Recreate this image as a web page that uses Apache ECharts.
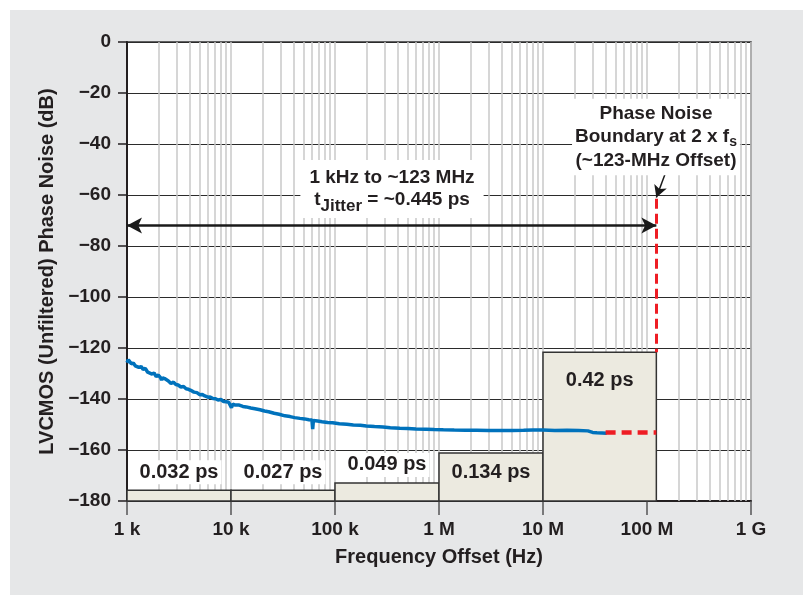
<!DOCTYPE html>
<html>
<head>
<meta charset="utf-8">
<script src="https://cdn.jsdelivr.net/npm/echarts@6/dist/echarts.min.js"></script>
<style>
  html, body { margin: 0; padding: 0; background: #fff; }
  #panel { position: absolute; left: 10px; top: 10px; width: 793px; height: 585px; background: #e6e7e8; }
  #chart { position: absolute; left: 0; top: 0; width: 809px; height: 608px; }
</style>
</head>
<body>
<div id="panel"></div>
<div id="chart"></div>
<script>
// measured phase noise (Hz, dB)
const freqs = [
  1000, 1030, 1060, 1100, 1150, 1200, 1250, 1300, 1370, 1430,
  1500, 1580, 1650, 1740, 1820, 1910, 2000, 2100, 2150, 2200,
  2300, 2400, 2500, 2650, 2800, 2950, 3100, 3300, 3500, 3700,
  3900, 4100, 4400, 4700, 5000, 5300, 5600, 6000, 6300, 6700,
  7100, 7500, 8000, 8500, 9000, 9500, 9800, 10100, 10400, 11000,
  12000, 13000, 14000, 15500, 17000, 19000, 21000, 23000, 26000, 29000,
  33000, 37000, 41000, 46000, 51000, 56000, 60000, 61000, 62000, 68000,
  75000, 85000, 95000, 110000, 130000, 150000, 175000, 200000, 240000, 290000,
  340000, 420000, 500000, 600000, 750000, 900000, 1.1e6, 1.4e6, 1.8e6, 2.3e6,
  3e6, 3.8e6, 5e6, 6.5e6, 8e6, 1e7, 1.3e7, 1.7e7, 2.2e7, 2.7e7,
  3e7, 3.3e7, 3.7e7, 4.1e7
];
const noiseDb = [
  -125.8, -124.6, -124.9, -126.2, -125.9, -127.0, -126.4, -127.6, -127.3, -128.4,
  -128.0, -129.5, -129.1, -130.2, -129.8, -131.2, -130.6, -131.6, -132.6, -131.7,
  -132.0, -132.7, -132.9, -133.9, -133.4, -134.3, -134.5, -135.3, -135.1, -136.0,
  -136.2, -136.6, -137.3, -137.5, -138.3, -138.2, -138.8, -139.3, -139.2, -139.8,
  -139.9, -140.4, -140.2, -141.0, -141.1, -141.3, -141.9, -143.4, -142.0, -142.4,
  -142.4, -142.9, -143.1, -143.5, -143.8, -144.2, -144.7, -145.0, -145.6, -146.0,
  -146.6, -146.9, -147.3, -147.6, -147.8, -148.1, -148.2, -151.8, -148.4, -148.6,
  -148.9, -149.2, -149.3, -149.7, -149.9, -150.2, -150.3, -150.6, -150.8, -151.0,
  -151.3, -151.5, -151.6, -151.8, -151.9, -152.0, -152.1, -152.2, -152.3, -152.3,
  -152.4, -152.4, -152.4, -152.3, -152.2, -152.2, -152.4, -152.3, -152.4, -152.5,
  -153.1, -153.2, -153.3, -153.4
];

// flat extension of the noise floor up to the boundary
const extFreq = [4.0e7, 1.23e8];
const extDb = [-153.1, -153.1];

// jitter integration bands
const bandStart = [1e3, 1e4, 1e5, 1e6, 1e7];
const bandEnd = [1e4, 1e5, 1e6, 1e7, 1.23e8];
const bandTop = [-175.8, -175.8, -172.9, -161.2, -121.7];
const bandLabels = ['0.032 ps', '0.027 ps', '0.049 ps', '0.134 ps', '0.42 ps'];

const boundaryFreq = 1.23e8;
const boundaryTopDb = -61.5;
const arrowDb = -72;

const xTickLabels = ['1 k', '10 k', '100 k', '1 M', '10 M', '100 M', '1 G'];
const yTickLabels = ['\u2212180', '\u2212160', '\u2212140', '\u2212120', '\u2212100',
  '\u221280', '\u221260', '\u221240', '\u221220', '0'];

const FONT = '"Liberation Sans", Arial, Helvetica, sans-serif';
const INK = '#231f20';
const RED = '#ee1d24';

// minor log grid lines (2..9 in every decade)
const minorLines = [];
for (let d = 3; d < 9; d++) {
  for (let m = 2; m <= 9; m++) minorLines.push({ xAxis: m * Math.pow(10, d) });
}

function renderBand(params, api) {
  const i = params.dataIndex;
  const tl = api.coord([api.value(0), api.value(2)]);
  const br = api.coord([api.value(1), -180]);
  const midX = (tl[0] + br[0]) / 2;
  const above = i < 3;
  const dy = above ? -18 : (i === 4 ? 28 : 19);
  return {
    type: 'group',
    children: [
      {
        type: 'rect',
        shape: { x: tl[0], y: tl[1], width: br[0] - tl[0], height: br[1] - tl[1] },
        style: { fill: '#eceae0', stroke: '#333', lineWidth: 1.5 }
      },
      {
        type: 'text',
        x: midX,
        y: tl[1] + dy,
        style: {
          text: bandLabels[i],
          fill: INK,
          fontFamily: FONT,
          fontWeight: 'bold',
          fontSize: 20,
          align: 'center',
          verticalAlign: 'middle',
          backgroundColor: above ? '#fff' : 'transparent',
          padding: above ? [2, 3] : 0
        }
      }
    ]
  };
}

const chart = echarts.init(document.getElementById('chart'));

const option = {
  animation: false,
  backgroundColor: 'transparent',
  grid: {
    left: 127,
    right: 58,
    top: 42,
    bottom: 107,
    show: true,
    backgroundColor: '#fff',
    borderColor: '#333',
    borderWidth: 1.5
  },
  xAxis: {
    type: 'log',
    logBase: 10,
    min: 1e3,
    max: 1e9,
    name: 'Frequency Offset (Hz)',
    nameLocation: 'middle',
    nameGap: 46,
    nameTextStyle: { color: INK, fontFamily: FONT, fontWeight: 'bold', fontSize: 20 },
    axisLine: { onZero: false, lineStyle: { color: INK, width: 2 } },
    axisTick: { show: true, length: 14, lineStyle: { color: '#555', width: 1.5 } },
    axisLabel: {
      color: INK, fontFamily: FONT, fontWeight: 'bold', fontSize: 19, margin: 19,
      formatter: v => xTickLabels[Math.round(Math.log10(v)) - 3]
    },
    splitLine: { show: true, lineStyle: { color: '#c9c9c9', width: 1.5 } },
    minorTick: { show: false },
    minorSplitLine: { show: false }
  },
  yAxis: {
    type: 'value',
    min: -180,
    max: 0,
    interval: 20,
    name: 'LVCMOS (Unfiltered) Phase Noise (dB)',
    nameLocation: 'middle',
    nameGap: 66,
    nameTextStyle: { color: INK, fontFamily: FONT, fontWeight: 'bold', fontSize: 20 },
    axisLine: { show: true, lineStyle: { color: INK, width: 2 } },
    axisTick: { show: true, length: 9, lineStyle: { color: INK, width: 1.5 } },
    axisLabel: {
      color: INK, fontFamily: FONT, fontWeight: 'bold', fontSize: 19, margin: 16,
      formatter: v => yTickLabels[Math.round((v + 180) / 20)]
    },
    splitLine: { show: true, lineStyle: { color: '#2b2b2b', width: 1 } }
  },
  series: [
    {
      name: 'minor grid',
      type: 'line',
      data: [],
      z: 1,
      silent: true,
      markLine: {
        z: 1,
        silent: true,
        symbol: 'none',
        label: { show: false },
        lineStyle: { color: '#c9c9c9', width: 1.5, type: 'solid' },
        data: minorLines
      }
    },
    {
      name: 'bands',
      type: 'custom',
      z: 2,
      renderItem: renderBand,
      encode: { x: [0, 1], y: 2 },
      data: bandStart.map((s, i) => [s, bandEnd[i], bandTop[i]])
    },
    {
      name: 'phase noise',
      type: 'line',
      z: 3,
      showSymbol: false,
      symbol: 'none',
      lineStyle: { color: '#0072bc', width: 3.5 },
      data: freqs.map((f, i) => [f, noiseDb[i]])
    },
    {
      name: 'floor extension',
      type: 'line',
      z: 4,
      showSymbol: false,
      symbol: 'none',
      lineStyle: { color: RED, width: 4.5, type: [10, 6] },
      data: extFreq.map((f, i) => [f, extDb[i]]),
      markLine: {
        silent: true,
        label: { show: false },
        data: [
          [
            { coord: [boundaryFreq, boundaryTopDb], symbol: 'none' },
            { coord: [boundaryFreq, bandTop[4]], symbol: 'none',
              lineStyle: { color: RED, width: 3, type: [10, 5] } }
          ],
          [
            { coord: [bandStart[0], arrowDb], symbol: 'arrow', symbolSize: [12, 15] },
            { coord: [boundaryFreq, arrowDb], symbol: 'arrow', symbolSize: [12, 15],
              lineStyle: { color: '#1a1a1a', width: 2.5, type: 'solid' } }
          ],
          [
            { coord: [1.52e8, -50.9], symbol: 'none' },
            { coord: [boundaryFreq, -61], symbol: 'arrow', symbolSize: [10, 12],
              lineStyle: { color: '#1a1a1a', width: 1.5, type: 'solid' } }
          ]
        ]
      }
    }
  ],
  graphic: [
    {
      type: 'text',
      x: 392,
      y: 189,
      z: 100,
      style: {
        text: '1 kHz to ~123 MHz\nt{sub|Jitter} = ~0.445 ps',
        fill: INK,
        fontFamily: FONT,
        fontWeight: 'bold',
        fontSize: 19,
        lineHeight: 22,
        align: 'center',
        verticalAlign: 'middle',
        backgroundColor: '#fff',
        padding: [7, 9],
        rich: {
          sub: { fontFamily: FONT, fontWeight: 'bold', fontSize: 17, fill: INK, lineHeight: 22, padding: [12, 0, 0, 0] }
        }
      }
    },
    {
      type: 'text',
      x: 656,
      y: 137,
      z: 100,
      style: {
        text: 'Phase Noise\nBoundary at 2 x f{sub|s}\n(~123-MHz Offset)',
        fill: INK,
        fontFamily: FONT,
        fontWeight: 'bold',
        fontSize: 19,
        lineHeight: 23.5,
        align: 'center',
        verticalAlign: 'middle',
        backgroundColor: '#fff',
        padding: [3, 3],
        rich: {
          sub: { fontFamily: FONT, fontWeight: 'bold', fontSize: 14, fill: INK, lineHeight: 23.5, padding: [10, 0, 0, 0] }
        }
      }
    }
  ]
};

chart.setOption(option);
</script>
</body>
</html>
